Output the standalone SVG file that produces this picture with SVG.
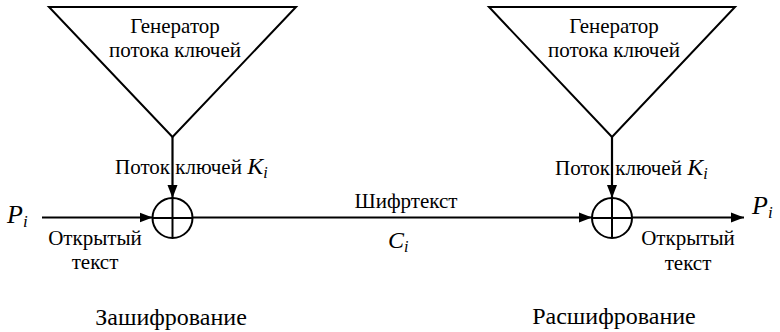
<svg xmlns="http://www.w3.org/2000/svg" width="780" height="332" viewBox="0 0 780 332">
  <style>
    .shape { fill: none; stroke: #000; stroke-width: 2; }
    .wire { fill: none; stroke: #000; stroke-width: 2.2; }
    .lbl { font-size: 21px; fill: #000; }
    .title { font-size: 24px; fill: #000; }
    .var { font-style: italic; fill: #000; }
  </style>
  <defs>
    <marker id="arrow" markerUnits="userSpaceOnUse" markerWidth="14" markerHeight="12" refX="13" refY="6" orient="auto">
      <path d="M0,1 L13,6 L0,11 Z" fill="#000"/>
    </marker>
  </defs>

  <!-- key stream generator, encryption side -->
  <g id="gen-enc">
    <path class="shape" d="M49,7 L296,7 L172.5,137 Z"/>
    <text class="lbl" font-family="Liberation Serif" x="175" y="33" text-anchor="middle">Генератор</text>
    <text class="lbl" font-family="Liberation Serif" x="175" y="57" text-anchor="middle">потока ключей</text>
  </g>

  <!-- XOR, encryption side -->
  <g id="xor-enc">
    <circle class="shape" cx="172.5" cy="218" r="20"/>
    <path class="shape" d="M152.5,218 H192.5 M172.5,198 V238"/>
  </g>

  <!-- key stream generator, decryption side -->
  <g id="gen-dec">
    <path class="shape" d="M489,7 L735,7 L612,137 Z"/>
    <text class="lbl" font-family="Liberation Serif" x="614" y="33" text-anchor="middle">Генератор</text>
    <text class="lbl" font-family="Liberation Serif" x="614" y="57" text-anchor="middle">потока ключей</text>
  </g>

  <!-- XOR, decryption side -->
  <g id="xor-dec">
    <circle class="shape" cx="612" cy="218" r="20"/>
    <path class="shape" d="M592,218 H632 M612,198 V238"/>
  </g>

  <!-- connectors -->
  <g id="connectors">
    <line class="wire" x1="172.5" y1="137" x2="172.5" y2="198" marker-end="url(#arrow)"/>
    <line class="wire" x1="612" y1="137" x2="612" y2="198" marker-end="url(#arrow)"/>
    <line class="wire" x1="42" y1="217.5" x2="152.5" y2="217.5" marker-end="url(#arrow)"/>
    <line class="wire" x1="192.5" y1="217.5" x2="592" y2="217.5" marker-end="url(#arrow)"/>
    <line class="wire" x1="632" y1="217.5" x2="744" y2="217.5" marker-end="url(#arrow)"/>
  </g>

  <!-- labels -->
  <g id="labels">
    <text class="lbl" font-family="Liberation Serif" x="115" y="174">Поток ключей <tspan class="var" font-size="24">K</tspan><tspan class="var" font-size="16" dy="4">i</tspan></text>
    <text class="lbl" font-family="Liberation Serif" x="555" y="175">Поток ключей <tspan class="var" font-size="24">K</tspan><tspan class="var" font-size="16" dy="4">i</tspan></text>

    <text class="var" font-family="Liberation Serif" x="7" y="223" font-size="26">P<tspan font-size="17" dy="4">i</tspan></text>
    <text class="var" font-family="Liberation Serif" x="752" y="214" font-size="26">P<tspan font-size="17" dy="4">i</tspan></text>

    <text class="lbl" font-family="Liberation Serif" x="95" y="245" text-anchor="middle">Открытый</text>
    <text class="lbl" font-family="Liberation Serif" x="95" y="269" text-anchor="middle">текст</text>
    <text class="lbl" font-family="Liberation Serif" x="688" y="245" text-anchor="middle">Открытый</text>
    <text class="lbl" font-family="Liberation Serif" x="688" y="270" text-anchor="middle">текст</text>

    <text class="lbl" font-family="Liberation Serif" x="406" y="208" text-anchor="middle">Шифртекст</text>
    <text class="var" font-family="Liberation Serif" x="388" y="248" font-size="24">C<tspan font-size="16" dy="4">i</tspan></text>

    <text class="title" font-family="Liberation Serif" x="171" y="325" text-anchor="middle">Зашифрование</text>
    <text class="title" font-family="Liberation Serif" x="614" y="324" text-anchor="middle">Расшифрование</text>
  </g>
</svg>
